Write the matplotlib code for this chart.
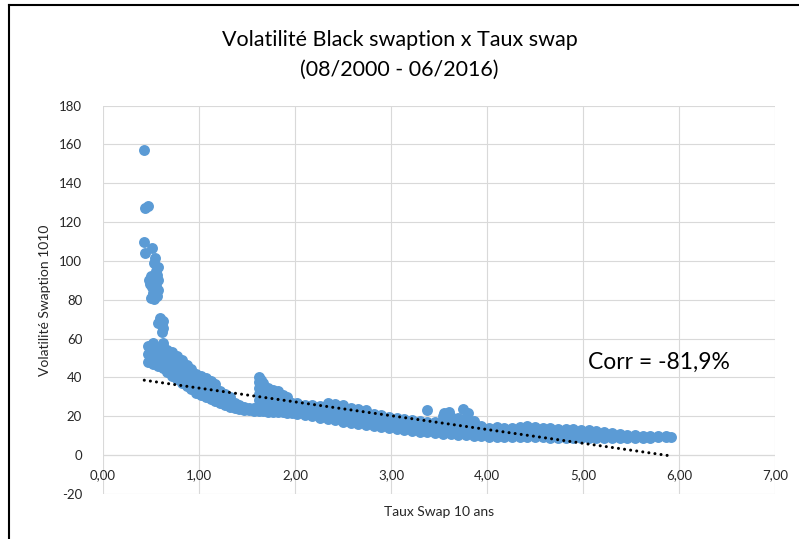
import numpy as np
import matplotlib
matplotlib.use("Agg")
import matplotlib.pyplot as plt
from matplotlib.lines import Line2D

plt.rcParams['font.family'] = ['Lato', 'DejaVu Sans']
plt.rcParams['axes.unicode_minus'] = False

# Points isolés (pic de volatilité, taux bas)
pic_x = [0.43, 0.44, 0.465, 0.43, 0.51, 0.44, 0.54, 0.53, 0.57, 0.55, 0.56,
         0.50, 0.48, 0.57, 0.49, 0.53, 0.51, 0.55, 0.57, 0.52, 0.56, 0.53, 0.50,
         0.59, 0.62, 0.57, 0.61, 0.63, 0.61, 0.63, 1.62, 1.65, 3.37, 3.55, 3.60,
         3.75, 3.80]
pic_y = [157.2, 127.3, 128.4, 110.0, 106.7, 104.0, 101.5, 99.0, 97.0, 95.0, 93.0,
         92.5, 90.0, 90.0, 88.0, 88.0, 86.8, 87.0, 85.0, 83.5, 82.0, 80.5, 81.0,
         70.6, 69.0, 68.0, 67.0, 65.5, 63.6, 57.7, 40.4, 38.5, 23.5, 21.5, 22.3,
         24.0, 21.5]

# Bande principale : taux swap -> volatilités lues dans le nuage
bande = [
    (0.47, [48, 52, 56]),
    (0.52, [47, 51, 55, 58]),
    (0.57, [46, 50, 54]),
    (0.62, [45, 49, 53, 56]),
    (0.67, [43, 47, 51, 54]),
    (0.72, [41, 45, 49, 53]),
    (0.77, [39, 43, 47, 51]),
    (0.82, [37, 41, 45, 49]),
    (0.87, [35.5, 39, 43, 46.5]),
    (0.92, [34, 37.5, 41, 44.5]),
    (0.97, [32, 35.5, 39, 42]),
    (1.02, [31, 34.5, 38, 41]),
    (1.07, [30, 33.5, 36.5, 39.5]),
    (1.12, [29, 32.5, 35.5, 38]),
    (1.17, [28, 31, 34, 36.5]),
    (1.22, [27, 30, 33]),
    (1.27, [26, 28.5, 31.5]),
    (1.32, [25, 27.5, 30]),
    (1.37, [24.5, 27]),
    (1.42, [24, 26]),
    (1.47, [23.5, 25]),
    (1.52, [23, 24.5]),
    (1.57, [22.5, 24.5]),
    (1.62, [22.5, 25.5, 28.5, 31.5, 34.5, 37.5]),
    (1.67, [22.5, 25.5, 28.5, 31.5, 35, 37]),
    (1.72, [22, 25, 28, 31, 34.5]),
    (1.77, [22, 25, 28, 31, 33.5]),
    (1.82, [22, 25, 28, 31, 33]),
    (1.87, [22, 25, 28, 31]),
    (1.92, [21.5, 24.5, 27.5, 30]),
    (1.97, [21.5, 24.5, 27]),
    (2.02, [21, 24, 27]),
    (2.10, [20.5, 23.5, 26]),
    (2.18, [20, 23, 26]),
    (2.26, [19, 22, 25.5]),
    (2.34, [18.5, 21.5, 25, 27]),
    (2.42, [18, 21, 24, 26.5]),
    (2.50, [17, 20, 23, 26]),
    (2.58, [16.5, 19.5, 22.5, 24.5]),
    (2.66, [16, 19, 22, 24]),
    (2.74, [15.5, 18.5, 21.5, 23]),
    (2.82, [15, 18, 21]),
    (2.90, [14.5, 17.5, 20.5]),
    (2.98, [14, 17, 19.5]),
    (3.06, [13.5, 16.5, 19]),
    (3.14, [13, 16, 18.5]),
    (3.22, [12.5, 15.5, 18]),
    (3.30, [12, 15, 17.5]),
    (3.38, [12, 14.5, 17]),
    (3.46, [11.5, 14, 17]),
    (3.54, [11, 14, 17, 20]),
    (3.62, [11, 13.5, 16.5, 19.5]),
    (3.70, [10.5, 13, 16, 19]),
    (3.78, [10.5, 13, 15.5, 19]),
    (3.86, [10, 12.5, 15, 17.5]),
    (3.94, [10, 12.5, 15]),
    (4.02, [9.5, 12, 14]),
    (4.10, [9.5, 12, 14.5]),
    (4.18, [9.5, 12, 14]),
    (4.26, [9.5, 12, 14]),
    (4.34, [9.5, 12, 14.5]),
    (4.42, [9.5, 12, 15]),
    (4.50, [9.5, 12, 14.5]),
    (4.58, [9.5, 12, 14]),
    (4.66, [9, 11.5, 14]),
    (4.74, [9, 11.5, 13.5]),
    (4.82, [9, 11.5, 13.5]),
    (4.90, [9, 11.5, 13.5]),
    (4.98, [9, 11, 13]),
    (5.06, [9, 11, 13]),
    (5.14, [9, 11, 12.5]),
    (5.22, [9, 10.5, 12]),
    (5.30, [9, 10.5, 11.5]),
    (5.38, [9, 10.5, 11]),
    (5.46, [9, 10.5]),
    (5.54, [9, 10.5]),
    (5.62, [9, 10]),
    (5.70, [9, 10]),
    (5.78, [9.5, 10]),
    (5.86, [9.5, 10]),
    (5.92, [9.5]),
]

# Courbe de tendance linéaire
pente = -7.11
ordonnee = 41.66

taux_swap = list(pic_x)
vol_swaption = list(pic_y)
for x, ys in bande:
    for y in ys:
        taux_swap.append(x)
        vol_swaption.append(y)
taux_swap = np.array(taux_swap)
vol_swaption = np.array(vol_swaption)

fig = plt.figure(figsize=(7.99, 5.39), dpi=100)
ax = fig.add_axes([0.1289, 0.0835, 0.8411, 0.7205])

ax.scatter(taux_swap, vol_swaption, s=62, color='#5B9BD5', linewidths=0, zorder=3)

xt = np.array([taux_swap.min(), taux_swap.max()])
ax.plot(xt, pente * xt + ordonnee, color='black', lw=2.2,
        linestyle=(0, (0.01, 2.0)), dash_capstyle='round', zorder=4)

ax.set_xlim(0, 7)
ax.set_ylim(-20, 180)
ax.set_xticks(np.arange(0, 8, 1))
ax.set_yticks(np.arange(-20, 181, 20))
ax.set_xticklabels([f"{v:.2f}".replace('.', ',') for v in range(8)])
ax.grid(True, color='#D9D9D9', lw=0.8, zorder=0)
ax.axhline(0, color='#BFBFBF', lw=0.8, zorder=1)
for s in ax.spines.values():
    s.set_visible(False)
ax.spines['bottom'].set_position(('data', 0))
ax.tick_params(axis='both', length=0, labelsize=9.5, labelcolor='#262626')
ax.tick_params(axis='x', pad=10)
ax.tick_params(axis='y', pad=15)

ax.set_xlabel('Taux Swap 10 ans', fontsize=10, color='#262626')
ax.xaxis.set_label_coords(0.5, -0.03)
ax.set_ylabel('Volatilité Swaption 1010', fontsize=10, color='#262626')
ax.yaxis.set_label_coords(-0.078, 0.5)

fig.text(0.5, 0.925, 'Volatilité Black swaption x Taux swap', ha='center',
         va='center', fontsize=15.5)
fig.text(0.5, 0.87, '(08/2000 - 06/2016)', ha='center', va='center', fontsize=15.5)
ax.text(5.05, 48, 'Corr = -81,9%', fontsize=16.5, ha='left', va='center')

# cadre du graphique (haut et gauche visibles)
fig.add_artist(Line2D([0.0118, 0.0118], [0, 0.99], color='black', lw=1.5))
fig.add_artist(Line2D([0.0118, 1.0], [0.99, 0.99], color='black', lw=1.5))

fig.savefig('out.png', dpi=100)
